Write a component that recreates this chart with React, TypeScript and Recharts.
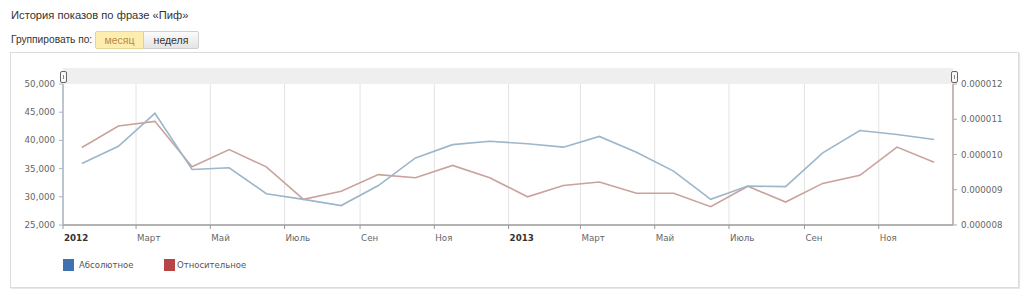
import React from "react";
import { LineChart, Line, XAxis, YAxis, CartesianGrid } from "recharts";

const months = [
  "2012-01", "2012-02", "2012-03", "2012-04", "2012-05", "2012-06",
  "2012-07", "2012-08", "2012-09", "2012-10", "2012-11", "2012-12",
  "2013-01", "2013-02", "2013-03", "2013-04", "2013-05", "2013-06",
  "2013-07", "2013-08", "2013-09", "2013-10", "2013-11", "2013-12",
];

const absoluteValues = [
  35900, 38950, 44800, 34850, 35150, 30550, 29550, 28450, 32000, 36900, 39250, 39850,
  39400, 38800, 40700, 37900, 34550, 29550, 31900, 31800, 37800, 41750, 41050, 40150,
];

const relativeValues = [
  0.00001020, 0.00001081, 0.00001094, 0.00000965, 0.00001014, 0.00000965,
  0.00000873, 0.00000896, 0.00000943, 0.00000934, 0.00000969, 0.00000934,
  0.00000880, 0.00000912, 0.00000922, 0.00000890, 0.00000890, 0.00000852,
  0.00000910, 0.00000865, 0.00000918, 0.00000941, 0.00001021, 0.00000978,
];

const xTickMonths = [
  "2012-01", "2012-03", "2012-05", "2012-07", "2012-09", "2012-11",
  "2013-01", "2013-03", "2013-05", "2013-07", "2013-09", "2013-11",
];
const xTickLabels = ["2012", "Март", "Май", "Июль", "Сен", "Ноя", "2013", "Март", "Май", "Июль", "Сен", "Ноя"];
const xDomainMonths = ["2012-01", "2014-01"];

const leftTicks = [25000, 30000, 35000, 40000, 45000, 50000];
const rightTicks = [0.000008, 0.000009, 0.00001, 0.000011, 0.000012];

const DAY = 86400000;
const BASE = Date.UTC(2012, 0, 1);
const monthStart = (s: string) => {
  const [y, m] = s.split("-").map(Number);
  return (Date.UTC(y, m - 1, 1) - BASE) / DAY;
};
const monthMid = (s: string) => {
  const [y, m] = s.split("-").map(Number);
  const a = (Date.UTC(y, m - 1, 1) - BASE) / DAY;
  const b = (Date.UTC(y, m, 1) - BASE) / DAY;
  return (a + b) / 2;
};

const data = months.map((mo, i) => ({
  t: monthMid(mo),
  abs: absoluteValues[i],
  rel: relativeValues[i],
}));

const xTicks = xTickMonths.map(monthStart);
const xDomain = xDomainMonths.map(monthStart);
const labelFor: Record<number, string> = {};
xTicks.forEach((v, i) => (labelFor[v] = xTickLabels[i]));

const FONT = "'DejaVu Sans', Verdana, sans-serif";
const FS = 8.7;

const XTick = (props: any) => {
  const { x, y, payload } = props;
  const label = labelFor[payload.value] ?? "";
  const bold = /^\d{4}$/.test(label);
  return (
    <text
      x={x + 1}
      y={y + 10}
      textAnchor="start"
      fontFamily={FONT}
      fontSize={FS}
      fontWeight={bold ? "bold" : "normal"}
      fill={bold ? "#333" : "#666"}
    >
      {label}
    </text>
  );
};

const Handle = ({ left }: { left: number }) => (
  <div
    style={{
      position: "absolute",
      left,
      top: 71,
      width: 5,
      height: 10,
      border: "1px solid #666",
      borderRadius: 2,
      background: "#f8f8f8",
      boxSizing: "content-box",
    }}
  >
    <div style={{ position: "absolute", left: 2, top: 3, width: 1, height: 4, background: "#888" }} />
  </div>
);

export default function App() {
  return (
    <div
      style={{
        position: "absolute",
        left: 0,
        top: 0,
        width: 1024,
        height: 289,
        background: "#fff",
        overflow: "hidden",
        fontFamily: "'Liberation Sans', Arial, sans-serif",
      }}
    >
      <div style={{ position: "absolute", left: 11, top: 9, fontSize: 11.2, color: "#333", whiteSpace: "nowrap" }}>
        История показов по фразе «Пиф»
      </div>
      <div style={{ position: "absolute", left: 11, top: 34, fontSize: 10.2, color: "#333", whiteSpace: "nowrap" }}>
        Группировать по:
      </div>
      <div
        style={{
          position: "absolute",
          left: 95,
          top: 31,
          width: 47,
          height: 16,
          background: "#fdeeb0",
          border: "1px solid #e6d49a",
          borderRadius: "2px 0 0 2px",
          fontSize: 10.5,
          color: "#b38a4e",
          textAlign: "center",
          lineHeight: "16px",
        }}
      >
        месяц
      </div>
      <div
        style={{
          position: "absolute",
          left: 143,
          top: 31,
          width: 54,
          height: 16,
          background: "linear-gradient(#fbfbfb, #e4e4e4)",
          border: "1px solid #cfcfcf",
          borderRadius: "0 2px 2px 0",
          fontSize: 10.5,
          color: "#333",
          textAlign: "center",
          lineHeight: "16px",
        }}
      >
        неделя
      </div>
      <div
        style={{
          position: "absolute",
          left: 10,
          top: 52,
          width: 1007,
          height: 234,
          border: "1px solid #dcdcdc",
          boxShadow: "1px 1px 1px #e8e8e8",
        }}
      />
      <div style={{ position: "absolute", left: 63, top: 68, width: 890, height: 16, background: "#efefef" }} />
      <div style={{ position: "absolute", left: 0, top: 0 }}>
        <LineChart width={1024} height={289} data={data} margin={{ top: 84, right: 6, bottom: 44, left: 13 }}>
          <CartesianGrid horizontal={false} vertical stroke="#e3e3e3" />
          <XAxis
            type="number"
            dataKey="t"
            domain={xDomain}
            ticks={xTicks}
            allowDataOverflow
            height={20}
            axisLine={{ stroke: "#9a9a9a", strokeWidth: 1.5 }}
            tickLine={{ stroke: "#9a9a9a" }}
            tickSize={4}
            tick={<XTick />}
            interval={0}
          />
          <YAxis
            yAxisId="l"
            orientation="left"
            width={50}
            domain={[25000, 50000]}
            ticks={leftTicks}
            allowDataOverflow
            axisLine={{ stroke: "#a9b6c0", strokeWidth: 1.5 }}
            tickLine={{ stroke: "#a9b6c0" }}
            tickSize={4}
            tickMargin={4}
            tick={{ fontFamily: FONT, fontSize: FS, fill: "#666" }}
            tickFormatter={(v: number) => v.toLocaleString("en-US")}
            interval={0}
          />
          <YAxis
            yAxisId="r"
            orientation="right"
            width={65}
            domain={[0.000008, 0.000012]}
            ticks={rightTicks}
            allowDataOverflow
            axisLine={{ stroke: "#b7a7a3", strokeWidth: 1.5 }}
            tickLine={{ stroke: "#b7a7a3" }}
            tickSize={4}
            tickMargin={4}
            tick={{ fontFamily: FONT, fontSize: FS, fill: "#666", textAnchor: "start" }}
            tickFormatter={(v: number) => v.toFixed(6)}
            interval={0}
          />
          <Line
            yAxisId="r"
            dataKey="rel"
            type="linear"
            stroke="#c9a29c"
            strokeWidth={1.6}
            dot={false}
            activeDot={false}
            isAnimationActive={false}
          />
          <Line
            yAxisId="l"
            dataKey="abs"
            type="linear"
            stroke="#9db6ca"
            strokeWidth={1.6}
            dot={false}
            activeDot={false}
            isAnimationActive={false}
          />
        </LineChart>
      </div>
      <Handle left={60} />
      <Handle left={951} />
      <div style={{ position: "absolute", left: 63, top: 259, width: 11, height: 12, background: "#3f72ae" }} />
      <div style={{ position: "absolute", left: 79, top: 259, fontFamily: FONT, fontSize: 8.5, color: "#555", lineHeight: "12px" }}>
        Абсолютное
      </div>
      <div style={{ position: "absolute", left: 164, top: 259, width: 11, height: 12, background: "#b84545" }} />
      <div style={{ position: "absolute", left: 177, top: 259, fontFamily: FONT, fontSize: 8.5, color: "#555", lineHeight: "12px" }}>
        Относительное
      </div>
    </div>
  );
}
